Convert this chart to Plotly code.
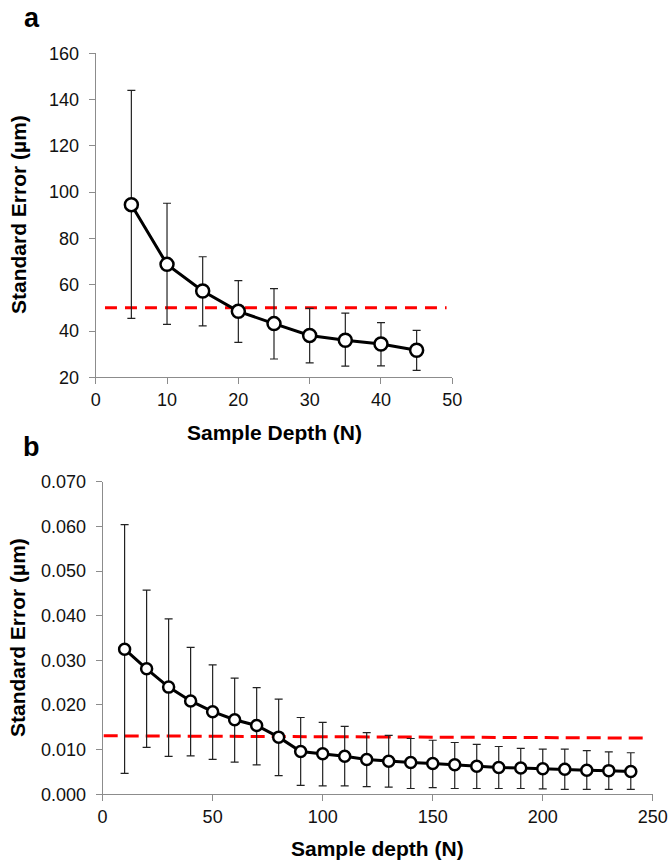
import numpy as np
import plotly.graph_objects as go

# panel a data
depth_a = [5, 10, 15, 20, 25, 30, 35, 40, 45]
se_a = [94.6, 68.8, 57.3, 48.5, 43.2, 38.1, 36.0, 34.4, 31.7]
upper_a = [144.0, 95.2, 72.1, 61.8, 58.3, 49.8, 47.7, 43.6, 40.3]
lower_a = [45.5, 42.9, 42.2, 35.1, 27.9, 26.2, 24.8, 24.9, 23.0]
thresh_a_x = [1.3, 49.2]
thresh_a_y = [50, 50]

# panel b data
depth_b = [10, 20, 30, 40, 50, 60, 70, 80, 90, 100, 110, 120,
           130, 140, 150, 160, 170, 180, 190, 200, 210, 220, 230, 240]
se_b = [0.0325, 0.0281, 0.0240, 0.0209, 0.0185, 0.0167, 0.0154, 0.0128,
        0.0096, 0.0091, 0.0085, 0.0078, 0.0074, 0.0071, 0.0069, 0.0066,
        0.0063, 0.0060, 0.0059, 0.0057, 0.0056, 0.0054, 0.0053, 0.0051]
upper_b = [0.0604, 0.0457, 0.0393, 0.0329, 0.0290, 0.0260, 0.0239, 0.0213,
           0.0172, 0.0161, 0.0152, 0.0138, 0.0132, 0.0125, 0.0121, 0.0116,
           0.0112, 0.0107, 0.0103, 0.0101, 0.0101, 0.0098, 0.0095, 0.0093]
lower_b = [0.0047, 0.0105, 0.0085, 0.0086, 0.0078, 0.0072, 0.0066, 0.0042,
           0.0020, 0.0019, 0.0019, 0.0017, 0.0016, 0.0013, 0.0015, 0.0013,
           0.0013, 0.0013, 0.0013, 0.0012, 0.0011, 0.0011, 0.0011, 0.0011]
thresh_b_x = [0.5, 246]
thresh_b_y = [0.0131, 0.0126]

W, H = 669, 865
FONT = "Liberation Sans, Arial, sans-serif"


def main_trace(x, y, up, lo, xa, ya, msize):
    y = np.array(y)
    return go.Scatter(
        x=x, y=y, mode="lines+markers", xaxis=xa, yaxis=ya,
        line=dict(color="black", width=3),
        marker=dict(symbol="circle", size=msize, color="white",
                    line=dict(color="black", width=2.5)),
        error_y=dict(type="data", symmetric=False,
                     array=np.array(up) - y, arrayminus=y - np.array(lo),
                     color="#222222", thickness=1.2, width=4),
        showlegend=False, cliponaxis=False,
    )


fig = go.Figure()
fig.add_trace(go.Scatter(x=thresh_a_x, y=thresh_a_y, mode="lines", xaxis="x", yaxis="y",
                         line=dict(color="#ff0000", width=3, dash="12px,8px"),
                         showlegend=False))
fig.add_trace(main_trace(depth_a, se_a, upper_a, lower_a, "x", "y", 13))
fig.add_trace(go.Scatter(x=thresh_b_x, y=thresh_b_y, mode="lines", xaxis="x2", yaxis="y2",
                         line=dict(color="#ff0000", width=3, dash="14px,7px"),
                         showlegend=False))
fig.add_trace(main_trace(depth_b, se_b, upper_b, lower_b, "x2", "y2", 11))

ax = dict(showline=True, linecolor="#8c8c8c", linewidth=1, ticks="outside",
          ticklen=6, tickcolor="#8c8c8c", showgrid=False, zeroline=False,
          tickfont=dict(family=FONT, size=18, color="#111111"), automargin=False)

fig.update_layout(
    width=W, height=H,
    margin=dict(l=0, r=0, t=0, b=0),
    paper_bgcolor="white", plot_bgcolor="white",
    xaxis=dict(ax, domain=[95.7 / W, 452.3 / W], range=[0, 50], dtick=10,
               anchor="y"),
    yaxis=dict(ax, domain=[1 - 377.3 / H, 1 - 53.3 / H], range=[20, 160], dtick=20,
               anchor="x", ticklabelstandoff=6),
    xaxis2=dict(ax, domain=[102.6 / W, 652.8 / W], range=[0, 250], dtick=50,
                anchor="y2"),
    yaxis2=dict(ax, domain=[1 - 794.3 / H, 1 - 481.7 / H], range=[0, 0.07],
                dtick=0.01, tickformat=".3f", anchor="x2", ticklabelstandoff=6),
)

bold = dict(family=FONT, size=21, color="black")
notes = [
    dict(text="<b>a</b>", x=22 / W, y=1 - 18 / H, font=dict(family=FONT, size=27, color="black"),
         xanchor="left", yanchor="middle"),
    dict(text="<b>b</b>", x=21 / W, y=1 - 447 / H, font=dict(family=FONT, size=27, color="black"),
         xanchor="left", yanchor="middle"),
    dict(text="<b>Standard Error (µm)</b>", x=18 / W, y=1 - 215 / H, textangle=-90,
         font=bold, xanchor="center", yanchor="middle"),
    dict(text="<b>Standard Error (µm)</b>", x=17 / W, y=1 - 638 / H, textangle=-90,
         font=bold, xanchor="center", yanchor="middle"),
    dict(text="<b>Sample Depth (N)</b>", x=274 / W, y=1 - 432 / H,
         font=bold, xanchor="center", yanchor="middle"),
    dict(text="<b>Sample depth (N)</b>", x=377 / W, y=1 - 848 / H,
         font=bold, xanchor="center", yanchor="middle"),
]
for n in notes:
    fig.add_annotation(xref="paper", yref="paper", showarrow=False, **n)

# drop the default 8px page margin so the figure fills the window
fig.write_html("out.html", config={"displayModeBar": False},
               post_script="document.body.style.margin='0px';document.body.style.overflow='hidden';")
